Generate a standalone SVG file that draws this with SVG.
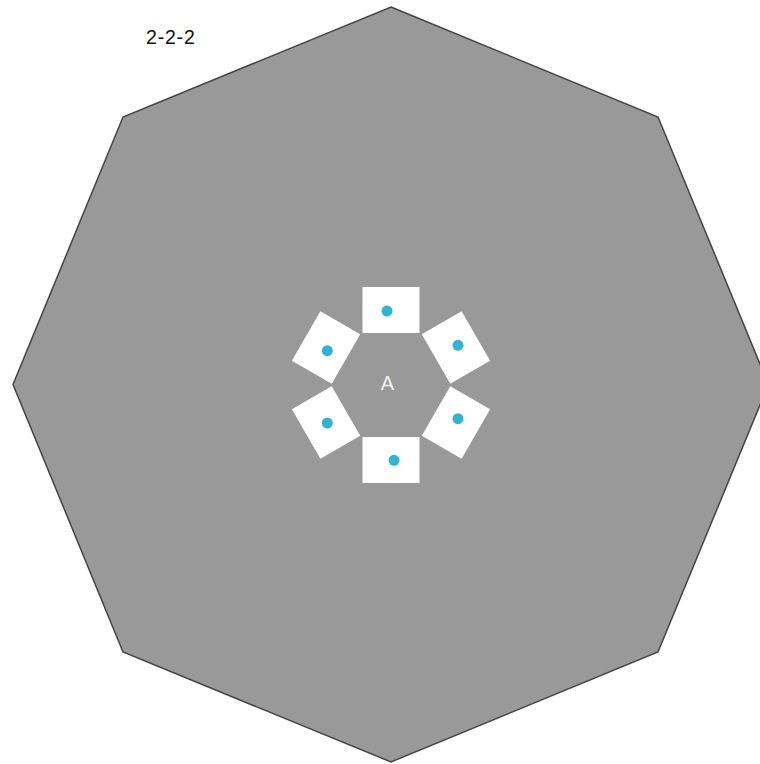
<svg xmlns="http://www.w3.org/2000/svg" width="760" height="764" viewBox="0 0 760 764">
<style>
.oct{fill:#999999;stroke:#444444;stroke-width:1.5}
.pad{fill:#ffffff}
.dot{fill:#33b3d1}
.lbl{font-family:"Liberation Sans",Arial,sans-serif}
</style>
<rect width="760" height="764" fill="#ffffff"/>
<g id="octagon">
<polygon class="oct" points="391,7 658,117 768.5,384.5 658,652 391,762 123,652 13,384.5 123,117"/>
</g>
<text class="lbl" x="146" y="43.5" font-size="19.5" letter-spacing="0.8" fill="#111111">2-2-2</text>
<g id="hub">
<text class="lbl" x="387.5" y="390" font-size="20" fill="#f2f2f2" text-anchor="middle">A</text>
</g>
<g id="pad1"><rect class="pad" x="-28.5" y="-98" width="57" height="46" transform="translate(391,385) rotate(0)"/><circle class="dot" cx="387" cy="311" r="5.5"/></g>
<g id="pad2"><rect class="pad" x="-28.5" y="-98" width="57" height="46" transform="translate(391,385) rotate(60)"/><circle class="dot" cx="458" cy="345.3" r="5.5"/></g>
<g id="pad3"><rect class="pad" x="-28.5" y="-98" width="57" height="46" transform="translate(391,385) rotate(120)"/><circle class="dot" cx="458" cy="418.7" r="5.5"/></g>
<g id="pad4"><rect class="pad" x="-28.5" y="-98" width="57" height="46" transform="translate(391,385) rotate(180)"/><circle class="dot" cx="394" cy="460.3" r="5.5"/></g>
<g id="pad5"><rect class="pad" x="-28.5" y="-98" width="57" height="46" transform="translate(391,385) rotate(240)"/><circle class="dot" cx="327.3" cy="423" r="5.5"/></g>
<g id="pad6"><rect class="pad" x="-28.5" y="-98" width="57" height="46" transform="translate(391,385) rotate(300)"/><circle class="dot" cx="327.3" cy="350.7" r="5.5"/></g>
<g id="connectors"></g>
</svg>
